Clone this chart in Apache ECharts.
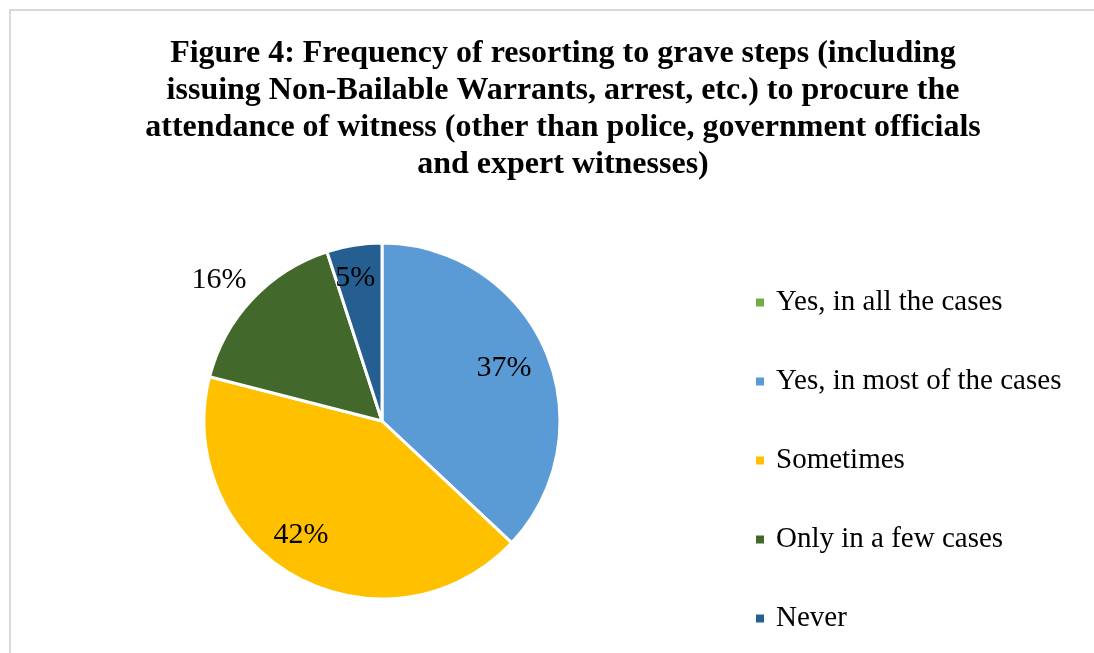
<!DOCTYPE html>
<html>
<head>
<meta charset="utf-8">
<script src="https://cdn.jsdelivr.net/npm/echarts@6/dist/echarts.min.js"></script>
<style>html,body{margin:0;padding:0;background:#fff;}#c{width:1094px;height:653px;}</style>
</head>
<body>
<div id="c"></div>
<script>
const titleText = 'Figure 4: Frequency of resorting to grave steps (including\nissuing Non-Bailable Warrants, arrest, etc.) to procure the\nattendance of witness (other than police, government officials\nand expert witnesses)';
const categories = ['Yes, in all the cases', 'Yes, in most of the cases', 'Sometimes', 'Only in a few cases', 'Never'];
const values = [0, 37, 42, 16, 5];
const colors = ['#70AD47', '#5B9BD5', '#FFC000', '#43682B', '#255E91'];
const labelOffsets = [[0,0],[0,0],[-17,-2],[-66,-50],[-6,-12]];

const chart = echarts.init(document.getElementById('c'), null, {renderer: 'canvas'});
const fontFam = '"Liberation Serif", "Times New Roman", serif';

const baseData = categories.map((n, i) => ({
  name: n, value: values[i], itemStyle: {color: colors[i]}
}));
const labelData = categories.map((n, i) => ({
  name: n, value: values[i],
  label: {show: values[i] > 0, offset: labelOffsets[i]}
}));

chart.setOption({
  animation: false,
  graphic: [{
    type: 'rect', shape: {x: 10, y: 10, width: 1100, height: 660},
    style: {fill: 'none', stroke: '#d9d9d9', lineWidth: 2}, z: -1
  }],
  title: {
    text: titleText, left: 558, top: 30, textAlign: 'center',
    textStyle: {fontFamily: fontFam, fontWeight: 'bold', fontSize: 32, lineHeight: 37, color: '#000'}
  },
  legend: {
    orient: 'vertical', left: 751, top: 283,
    icon: 'rect', itemWidth: 8, itemHeight: 8, itemGap: 50,
    itemStyle: {borderWidth: 0},
    data: categories,
    textStyle: {fontFamily: fontFam, fontSize: 29, color: '#000', padding: [0,0,0,7]}
  },
  series: [{
    type: 'pie', center: [382, 421], radius: [0, 178], startAngle: 90,
    clockwise: true, silent: true,
    itemStyle: {borderColor: '#fff', borderWidth: 3},
    label: {show: false}, labelLine: {show: false},
    data: baseData
  }, {
    type: 'pie', center: [382, 421], radius: [82, 178], startAngle: 90,
    clockwise: true, silent: true,
    itemStyle: {color: 'transparent', borderWidth: 0},
    label: {show: true, position: 'inside', formatter: p => p.value + '%',
      fontFamily: fontFam, fontSize: 30, color: '#000'},
    labelLine: {show: false},
    data: labelData
  }]
});
</script>
</body>
</html>
